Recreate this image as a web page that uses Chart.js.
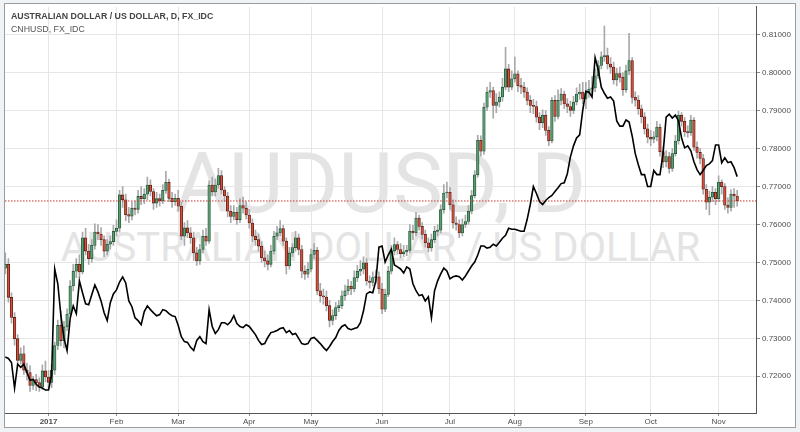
<!DOCTYPE html>
<html>
<head>
<meta charset="utf-8">
<script src="https://cdn.jsdelivr.net/npm/chart.js@4.4.1/dist/chart.umd.min.js"></script>
<style>
  body { margin: 0; background: #f0f3f6; }
  #frame { position: absolute; left: 4px; top: 3px; width: 790px; height: 423px; border: 1px solid #9c9c9c; background: #fff; }
  .wm { position: absolute; left: 5px; width: 751px; text-align: center; color: #e4e4e4; font-family: Roboto, sans-serif; line-height: 1; white-space: nowrap; }
  #wm1 { top: 142px; font-size: 84px; }
  #wm2 { top: 228px; font-size: 40px; }
  #chart { position: absolute; left: 0; top: 0; }
  .title { position: absolute; left: 11px; font-family: "Liberation Sans", Arial, sans-serif; font-size: 8.8px; white-space: nowrap; }
  #t1 { top: 11px; font-weight: bold; color: #444; }
  #t2 { top: 24px; color: #555; }
</style>
</head>
<body>
<div id="frame"></div>
<div class="wm" id="wm1">AUDUSD, D</div>
<div class="wm" id="wm2">AUSTRALIAN DOLLAR / US DOLLAR</div>
<canvas id="chart" width="800" height="432"></canvas>
<div class="title" id="t1">AUSTRALIAN DOLLAR / US DOLLAR, D, FX_IDC</div>
<div class="title" id="t2">CNHUSD, FX_IDC</div>
<script>
// AUDUSD daily candles, 13 Dec 2016 - 9 Nov 2017 (one value per trading day)
const opens = [
  0.7485,0.7495,0.7408,0.7355,0.7299,0.7242,0.7259,0.7216,0.7210,0.7176,0.7191,0.7183,0.7172,0.7214,
  0.7198,0.7184,0.7216,0.7281,0.7334,0.7294,0.7330,0.7364,0.7438,0.7477,0.7495,0.7475,0.7565,0.7530,0.7510,0.7545,0.7580,0.7575,0.7560,0.7530,0.7548,0.7555,
  0.7582,0.7590,0.7678,0.7665,0.7626,0.7622,0.7643,0.7640,0.7674,0.7668,0.7680,0.7704,0.7687,0.7656,0.7668,0.7662,0.7690,0.7711,0.7669,0.7660,
  0.7669,0.7648,0.7569,0.7591,0.7578,0.7565,0.7525,0.7504,0.7534,0.7569,0.7556,0.7704,0.7686,0.7704,0.7729,0.7691,0.7675,0.7635,0.7621,0.7632,0.7613,0.7650,0.7643,
  0.7625,0.7604,0.7569,0.7560,0.7543,0.7512,0.7504,0.7495,0.7530,0.7569,0.7578,0.7589,0.7556,0.7491,0.7525,0.7539,0.7565,0.7534,0.7477,0.7469,
  0.7482,0.7521,0.7532,0.7425,0.7412,0.7409,0.7386,0.7347,0.7360,0.7381,0.7386,0.7412,0.7425,0.7438,0.7430,0.7460,0.7477,0.7482,0.7499,0.7451,0.7447,0.7460,0.7462,
  0.7430,0.7377,0.7416,0.7477,0.7530,0.7547,0.7534,0.7523,0.7528,0.7532,0.7582,0.7578,0.7617,0.7595,0.7574,0.7552,0.7538,0.7560,0.7582,0.7585,0.7639,0.7683,
  0.7685,0.7652,0.7604,0.7600,0.7578,0.7600,0.7608,0.7635,0.7676,0.7731,0.7822,0.7793,0.7909,0.7949,0.7953,0.7914,0.7923,0.7936,0.7962,0.8010,0.7962,
  0.7984,0.7997,0.7966,0.7962,0.7949,0.7927,0.7914,0.7911,0.7883,0.7868,0.7888,0.7848,0.7820,0.7927,0.7885,0.7927,0.7944,0.7918,0.7911,0.7901,0.7923,0.7944,0.7949,
  0.7931,0.7946,0.7957,0.7960,0.7992,0.8019,0.8042,0.8045,0.8023,0.8015,0.7981,0.7998,0.7988,0.7955,0.8005,0.8032,0.7935,0.7928,0.7905,0.7884,0.7852,
  0.7830,0.7825,0.7831,0.7857,0.7792,0.7765,0.7779,0.7748,0.7787,0.7820,0.7888,0.7872,0.7844,0.7842,0.7875,0.7804,0.7790,0.7774,0.7693,0.7659,0.7672,0.7685,
  0.7668,0.7712,0.7700,0.7651,0.7645,0.7680,0.7675
];
const highs = [
  0.7525,0.7510,0.7420,0.7368,0.7310,0.7275,0.7280,0.7235,0.7228,0.7200,0.7205,0.7196,0.7230,0.7240,
  0.7215,0.7232,0.7290,0.7348,0.7372,0.7345,0.7378,0.7452,0.7495,0.7510,0.7520,0.7580,0.7590,0.7548,0.7560,0.7602,0.7600,0.7592,0.7570,0.7560,0.7570,0.7598,
  0.7612,0.7690,0.7700,0.7680,0.7645,0.7660,0.7662,0.7690,0.7700,0.7695,0.7725,0.7718,0.7695,0.7685,0.7680,0.7705,0.7740,0.7720,0.7685,0.7680,
  0.7690,0.7660,0.7605,0.7610,0.7592,0.7580,0.7540,0.7548,0.7585,0.7590,0.7715,0.7725,0.7720,0.7748,0.7742,0.7700,0.7685,0.7650,0.7650,0.7645,0.7668,0.7672,0.7660,
  0.7640,0.7615,0.7585,0.7575,0.7555,0.7530,0.7520,0.7545,0.7582,0.7595,0.7610,0.7598,0.7565,0.7540,0.7550,0.7582,0.7575,0.7545,0.7492,0.7500,
  0.7535,0.7550,0.7540,0.7445,0.7430,0.7425,0.7400,0.7375,0.7395,0.7400,0.7425,0.7440,0.7455,0.7450,0.7478,0.7492,0.7505,0.7515,0.7510,0.7465,0.7475,0.7480,0.7475,
  0.7445,0.7430,0.7490,0.7545,0.7565,0.7555,0.7550,0.7545,0.7545,0.7600,0.7598,0.7632,0.7625,0.7605,0.7585,0.7565,0.7575,0.7595,0.7600,0.7652,0.7705,0.7712,
  0.7698,0.7665,0.7620,0.7612,0.7615,0.7625,0.7650,0.7690,0.7742,0.7835,0.7834,0.7920,0.7962,0.7975,0.7962,0.7945,0.7950,0.7985,0.8067,0.8022,0.8005,
  0.8041,0.8005,0.7985,0.7975,0.7960,0.7940,0.7930,0.7925,0.7895,0.7902,0.7900,0.7858,0.7935,0.7940,0.7955,0.7958,0.7952,0.7932,0.7925,0.7938,0.7960,0.7970,0.7975,
  0.7975,0.7980,0.7990,0.8010,0.8032,0.8055,0.8123,0.8065,0.8040,0.8028,0.8012,0.8015,0.8000,0.8020,0.8104,0.8040,0.7950,0.7940,0.7915,0.7895,0.7865,
  0.7848,0.7845,0.7872,0.7865,0.7805,0.7795,0.7790,0.7800,0.7835,0.7898,0.7895,0.7882,0.7860,0.7888,0.7882,0.7818,0.7800,0.7785,0.7705,0.7688,0.7700,0.7695,
  0.7728,0.7718,0.7708,0.7670,0.7692,0.7695,0.7690
];
const lows = [
  0.7470,0.7395,0.7340,0.7282,0.7230,0.7232,0.7205,0.7190,0.7160,0.7165,0.7162,0.7160,0.7165,0.7185,
  0.7165,0.7170,0.7205,0.7270,0.7280,0.7275,0.7320,0.7355,0.7425,0.7460,0.7460,0.7470,0.7520,0.7495,0.7500,0.7535,0.7560,0.7545,0.7515,0.7520,0.7535,0.7545,
  0.7570,0.7580,0.7645,0.7610,0.7605,0.7612,0.7625,0.7630,0.7652,0.7655,0.7665,0.7675,0.7640,0.7645,0.7648,0.7655,0.7682,0.7660,0.7645,0.7650,
  0.7635,0.7560,0.7545,0.7565,0.7550,0.7505,0.7492,0.7495,0.7525,0.7545,0.7550,0.7675,0.7675,0.7695,0.7680,0.7660,0.7620,0.7605,0.7612,0.7600,0.7605,0.7630,0.7615,
  0.7590,0.7555,0.7545,0.7530,0.7500,0.7488,0.7480,0.7488,0.7522,0.7560,0.7570,0.7545,0.7470,0.7482,0.7515,0.7530,0.7520,0.7460,0.7455,0.7460,
  0.7475,0.7510,0.7415,0.7395,0.7390,0.7372,0.7330,0.7335,0.7350,0.7370,0.7378,0.7400,0.7415,0.7415,0.7422,0.7450,0.7465,0.7470,0.7440,0.7432,0.7438,0.7445,0.7418,
  0.7365,0.7370,0.7410,0.7470,0.7520,0.7522,0.7512,0.7515,0.7518,0.7525,0.7560,0.7570,0.7585,0.7562,0.7540,0.7528,0.7530,0.7552,0.7570,0.7578,0.7630,0.7670,
  0.7640,0.7590,0.7585,0.7565,0.7570,0.7592,0.7600,0.7628,0.7670,0.7725,0.7780,0.7785,0.7900,0.7935,0.7880,0.7895,0.7910,0.7925,0.7955,0.7950,0.7955,
  0.7975,0.7950,0.7945,0.7935,0.7915,0.7895,0.7892,0.7870,0.7850,0.7855,0.7835,0.7808,0.7815,0.7872,0.7878,0.7915,0.7905,0.7895,0.7885,0.7892,0.7915,0.7930,0.7918,
  0.7905,0.7935,0.7940,0.7950,0.7985,0.8010,0.8030,0.8010,0.7998,0.7970,0.7965,0.7975,0.7940,0.7948,0.7995,0.7920,0.7912,0.7890,0.7868,0.7838,0.7815,
  0.7808,0.7815,0.7820,0.7780,0.7750,0.7752,0.7735,0.7740,0.7780,0.7812,0.7860,0.7832,0.7830,0.7835,0.7795,0.7775,0.7760,0.7680,0.7640,0.7625,0.7660,0.7652,
  0.7660,0.7680,0.7640,0.7630,0.7635,0.7645,0.7648
];
const closes = [
  0.7495,0.7408,0.7355,0.7299,0.7242,0.7259,0.7216,0.7210,0.7176,0.7191,0.7183,0.7172,0.7214,0.7198,
  0.7184,0.7216,0.7281,0.7334,0.7294,0.7330,0.7364,0.7438,0.7477,0.7495,0.7475,0.7565,0.7530,0.7510,0.7545,0.7580,0.7575,0.7560,0.7530,0.7548,0.7555,0.7582,
  0.7590,0.7678,0.7665,0.7626,0.7622,0.7643,0.7640,0.7674,0.7668,0.7680,0.7704,0.7687,0.7656,0.7668,0.7662,0.7690,0.7711,0.7669,0.7660,0.7669,
  0.7648,0.7569,0.7591,0.7578,0.7565,0.7525,0.7504,0.7534,0.7569,0.7556,0.7704,0.7686,0.7704,0.7729,0.7691,0.7675,0.7635,0.7621,0.7632,0.7613,0.7650,0.7643,0.7625,
  0.7604,0.7569,0.7560,0.7543,0.7512,0.7504,0.7495,0.7530,0.7569,0.7578,0.7589,0.7556,0.7491,0.7525,0.7539,0.7565,0.7534,0.7477,0.7469,0.7482,
  0.7521,0.7532,0.7425,0.7412,0.7409,0.7386,0.7347,0.7360,0.7381,0.7386,0.7412,0.7425,0.7438,0.7430,0.7460,0.7477,0.7482,0.7499,0.7451,0.7447,0.7460,0.7462,0.7430,
  0.7377,0.7416,0.7477,0.7530,0.7547,0.7534,0.7523,0.7528,0.7532,0.7582,0.7578,0.7617,0.7595,0.7574,0.7552,0.7538,0.7560,0.7582,0.7585,0.7639,0.7683,0.7685,
  0.7652,0.7604,0.7600,0.7578,0.7600,0.7608,0.7635,0.7676,0.7731,0.7822,0.7793,0.7909,0.7949,0.7953,0.7914,0.7923,0.7936,0.7962,0.8010,0.7962,0.7984,
  0.7997,0.7966,0.7962,0.7949,0.7927,0.7914,0.7911,0.7883,0.7868,0.7888,0.7848,0.7820,0.7927,0.7885,0.7927,0.7944,0.7918,0.7911,0.7901,0.7923,0.7944,0.7949,0.7931,
  0.7946,0.7957,0.7960,0.7992,0.8019,0.8042,0.8045,0.8023,0.8015,0.7981,0.7998,0.7988,0.7955,0.8005,0.8032,0.7935,0.7928,0.7905,0.7884,0.7852,0.7830,
  0.7825,0.7831,0.7857,0.7792,0.7765,0.7779,0.7748,0.7787,0.7820,0.7888,0.7872,0.7844,0.7842,0.7875,0.7804,0.7790,0.7774,0.7693,0.7659,0.7672,0.7685,0.7668,
  0.7712,0.7700,0.7651,0.7645,0.7680,0.7675,0.7662
];
// CNHUSD close, overlaid on its own (hidden) scale
const cnhusd = [
  0.14443,0.14438,0.14424,0.14336,0.14418,0.14407,0.14418,0.14390,0.14363,0.14366,0.14349,0.14339,0.14336,0.14329,
  0.14329,0.14380,0.14746,0.14695,0.14585,0.14507,0.14465,0.14575,0.14619,0.14592,0.14705,0.14664,0.14626,0.14623,0.14657,0.14691,0.14667,0.14636,0.14595,0.14568,0.14630,0.14660,
  0.14674,0.14701,0.14719,0.14698,0.14636,0.14616,0.14578,0.14568,0.14554,0.14599,0.14619,0.14606,0.14595,0.14585,0.14589,0.14606,0.14602,0.14592,0.14585,0.14582,
  0.14551,0.14513,0.14496,0.14493,0.14476,0.14465,0.14500,0.14513,0.14496,0.14489,0.14606,0.14548,0.14524,0.14537,0.14561,0.14561,0.14554,0.14565,0.14585,0.14558,0.14548,0.14544,0.14554,
  0.14548,0.14534,0.14520,0.14500,0.14486,0.14489,0.14510,0.14527,0.14530,0.14534,0.14541,0.14544,0.14527,0.14534,0.14520,0.14524,0.14507,0.14489,0.14486,0.14489,
  0.14507,0.14510,0.14500,0.14489,0.14476,0.14465,0.14479,0.14496,0.14510,0.14534,0.14548,0.14554,0.14541,0.14537,0.14541,0.14544,0.14561,0.14602,0.14660,0.14667,0.14664,0.14705,0.14821,
  0.14825,0.14770,0.14794,0.14814,0.14760,0.14753,0.14746,0.14732,0.14753,0.14746,0.14695,0.14671,0.14654,0.14657,0.14636,0.14650,0.14578,0.14671,0.14705,0.14729,0.14749,0.14739,
  0.14712,0.14719,0.14722,0.14719,0.14708,0.14722,0.14739,0.14756,0.14770,0.14794,0.14825,0.14825,0.14818,0.14821,0.14831,0.14825,0.14838,0.14852,0.14862,0.14886,0.14883,
  0.14883,0.14879,0.14876,0.14876,0.14917,0.14968,0.15030,0.15006,0.14978,0.14968,0.14982,0.14992,0.14999,0.15013,0.15026,0.15040,0.15043,0.15074,0.15132,0.15170,0.15197,0.15208,0.15293,
  0.15358,0.15355,0.15338,0.15474,0.15433,0.15372,0.15351,0.15334,0.15338,0.15324,0.15256,0.15238,0.15238,0.15259,0.15252,0.15204,0.15143,0.15105,0.15071,0.15071,0.15030,
  0.15030,0.15085,0.15071,0.15071,0.15143,0.15269,0.15279,0.15266,0.15276,0.15256,0.15197,0.15163,0.15170,0.15153,0.15115,0.15088,0.15071,0.15085,0.15102,0.15108,0.15119,0.15173,
  0.15173,0.15112,0.15129,0.15112,0.15115,0.15095,0.15064
];
const priceTicks = [0.72, 0.73, 0.74, 0.75, 0.76, 0.77, 0.78, 0.79, 0.80, 0.81];
const monthNames = ["Jan", "Feb", "Mar", "Apr", "May", "Jun", "Jul", "Aug", "Sep", "Oct", "Nov", "Dec"];
const firstDay = "2016-12-13";

// trading days (weekdays) from the first bar
const days = [];
for (let d = new Date(firstDay + "T00:00:00Z"); days.length < closes.length; d.setUTCDate(d.getUTCDate() + 1)) {
  const wd = d.getUTCDay();
  if (wd !== 0 && wd !== 6) days.push(new Date(d));
}
const monthStarts = [];
days.forEach((d, i) => {
  if (i > 0 && d.getUTCMonth() !== days[i - 1].getUTCMonth()) monthStarts.push(i);
});
const dayLabel = (i) => {
  const d = days[i];
  return d.getUTCMonth() === 0 ? String(d.getUTCFullYear()) : monthNames[d.getUTCMonth()];
};

const xMin = -0.1, xMax = 243.1;
const last = closes[closes.length - 1];
const rising = closes.map((c, i) => c >= opens[i]);

const axisFont = { family: "'Liberation Sans', Arial, sans-serif", size: 8 };

new Chart(document.getElementById("chart"), {
  type: "bar",
  data: {
    datasets: [
      {
        type: "line",
        data: cnhusd.map((v, i) => ({ x: i, y: v })),
        yAxisID: "y2",
        borderColor: "#000",
        borderWidth: 1.6,
        pointRadius: 0,
        order: 1,
      },
      {
        type: "line",
        data: [{ x: xMin, y: last }, { x: xMax, y: last }],
        borderColor: "#c9372a",
        borderWidth: 1,
        borderDash: [1.5, 1.5],
        pointRadius: 0,
        order: 2,
      },
      {
        data: closes.map((c, i) => ({ x: i, y: [opens[i], c] })),
        backgroundColor: rising.map((u) => (u ? "#5a9e72" : "#d0503c")),
        borderColor: rising.map((u) => (u ? "#225437" : "#5b1a13")),
        borderWidth: 0.8,
        borderSkipped: false,
        barThickness: 2.6,
        minBarLength: 1,
        grouped: false,
        order: 3,
      },
      {
        data: closes.map((c, i) => ({ x: i, y: [lows[i], highs[i]] })),
        backgroundColor: "#a9a9a9",
        barThickness: 1,
        grouped: false,
        order: 4,
      },
    ],
  },
  options: {
    responsive: false,
    animation: false,
    layout: { padding: { left: 5, top: 4, right: 5, bottom: 4 } },
    plugins: { legend: { display: false }, tooltip: { enabled: false } },
    scales: {
      x: {
        type: "linear",
        min: xMin,
        max: xMax,
        offset: false,
        afterBuildTicks: (s) => { s.ticks = monthStarts.map((i) => ({ value: i })); },
        afterFit: (s) => { s.height = 15; },
        grid: { offset: false, color: "#e6e6e6", tickLength: 3, tickColor: "#8c8c8c" },
        border: { color: "#555" },
        ticks: {
          autoSkip: false,
          maxRotation: 0,
          padding: 1,
          color: "#4d4d4d",
          font: (c) => ({ ...axisFont, weight: c.tick && days[c.tick.value].getUTCMonth() === 0 ? "bold" : "normal" }),
          callback: (v) => dayLabel(v),
        },
      },
      y: {
        position: "right",
        min: 0.710314,
        max: 0.817382,
        afterBuildTicks: (s) => { s.ticks = priceTicks.map((v) => ({ value: v })); },
        afterFit: (s) => { s.width = 39; },
        grid: { color: "#e6e6e6", tickLength: 4, tickColor: "#8c8c8c" },
        border: { color: "#555" },
        ticks: { padding: 2, color: "#4d4d4d", font: axisFont, callback: (v) => v.toFixed(5) },
      },
      y2: { display: false, min: 0.1425, max: 0.156488 },
    },
  },
});
</script>
</body>
</html>
